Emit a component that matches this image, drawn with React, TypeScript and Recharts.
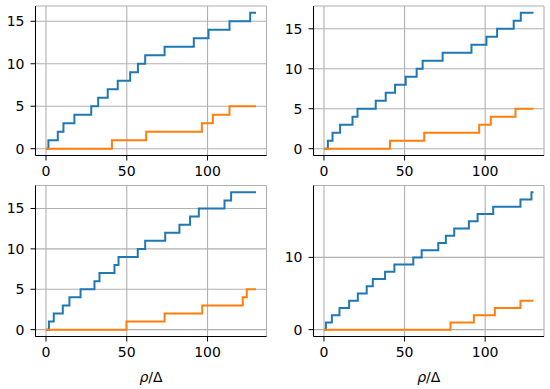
import React from "react";
import { LineChart, Line, XAxis, YAxis, CartesianGrid } from "recharts";

// step positions (rho/Delta) and counts
const p1BlueX = [0, 1.5, 7.3, 10.8, 17.6, 28, 32.3, 38.2, 44.4, 52.1, 56.9, 61.4, 73.4, 91.5, 100.6, 113.6, 126.4, 130];
const p1BlueY = [0, 1, 2, 3, 4, 5, 6, 7, 8, 9, 10, 11, 12, 13, 14, 15, 16, 16];
const p1OrangeX = [0, 40.8, 62, 96.5, 103.3, 113.6, 130];
const p1OrangeY = [0, 1, 2, 3, 4, 5, 5];

const p2BlueX = [0, 2.4, 5.3, 10, 17.7, 20.8, 32.1, 38.3, 44.1, 50.7, 57.5, 61.2, 73.6, 91.5, 100.8, 107.4, 117.7, 122.1, 130];
const p2BlueY = [0, 1, 2, 3, 4, 5, 6, 7, 8, 9, 10, 11, 12, 13, 14, 15, 16, 17, 17];
const p2OrangeX = [0, 41, 62.2, 96.3, 103.5, 118.8, 130];
const p2OrangeY = [0, 1, 2, 3, 4, 5, 5];

const p3BlueX = [0, 1.8, 4.8, 10.4, 14.5, 21.4, 30, 33.1, 42.4, 44.9, 56.8, 61.4, 73.8, 82.6, 89.2, 94.6, 110.5, 114.6, 130];
const p3BlueY = [0, 1, 2, 3, 4, 5, 6, 7, 8, 9, 10, 11, 12, 13, 14, 15, 16, 17, 17];
const p3OrangeX = [0, 49.8, 73.4, 96.7, 121.8, 124.3, 130];
const p3OrangeY = [0, 1, 2, 3, 4, 5, 5];

const p4BlueX = [0, 1.2, 4.9, 9.6, 15.6, 21, 26.5, 30.3, 37.9, 43.7, 55.4, 60.6, 70.9, 75.6, 80.8, 89.9, 95.3, 105, 121.9, 128.7, 130];
const p4BlueY = [0, 1, 2, 3, 4, 5, 6, 7, 8, 9, 10, 11, 12, 13, 14, 15, 16, 17, 18, 19, 19];
const p4OrangeX = [0, 78.5, 93, 106, 121.9, 130];
const p4OrangeY = [0, 1, 2, 3, 4, 4];

const xTicks = [0, 50, 100];
const yTicksA = [0, 5, 10, 15];
const yTicksB = [0, 10];

const FONT = "DejaVu Sans";
const BLUE = "#1f77b4";
const ORANGE = "#ff7f0e";

const toPoints = (xs: number[], ys: number[]) => xs.map((x, i) => ({ x, y: ys[i] }));

const XLabel = (props: any) => {
  const vb = props.viewBox || {};
  const cx = (vb.x ?? 35.5) + (vb.width ?? 231) / 2;
  const y = (vb.y ?? 156.5) + 45;
  return (
    <text x={cx} y={y} textAnchor="middle" fontFamily={FONT} fontSize={14} fill="#000">
      <tspan fontStyle="italic">ρ</tspan>
      <tspan>/Δ</tspan>
    </text>
  );
};

interface PanelProps {
  blue: { x: number; y: number }[];
  orange: { x: number; y: number }[];
  yDomain: [number, number];
  yTicks: number[];
  left: number;
  top: number;
  height: number;
  yWidth: number;
  right: number;
  xHeight: number;
  withLabel?: boolean;
}

function Panel({ blue, orange, yDomain, yTicks, left, top, height, yWidth, right, xHeight, withLabel }: PanelProps) {
  const tickStyle = { fill: "#000", fontSize: 14, fontFamily: FONT };
  return (
    <div style={{ position: "absolute", left, top }}>
      <LineChart width={275} height={height} margin={{ top: top === 0 ? 6 : 5.5, right, left: 0, bottom: 0 }}>
        <CartesianGrid stroke="#b0b0b0" strokeWidth={1.1} />
        <XAxis
          dataKey="x"
          type="number"
          domain={[-6.5, 136.5]}
          allowDataOverflow
          ticks={xTicks}
          height={xHeight}
          stroke="#000"
          tickSize={5}
          tickMargin={6}
          tick={tickStyle}
          label={withLabel ? <XLabel /> : undefined}
        />
        <XAxis xAxisId="top" orientation="top" type="number" domain={[-6.5, 136.5]} height={0} tick={false} tickLine={false} stroke="#000" />
        <YAxis
          type="number"
          domain={yDomain}
          allowDataOverflow
          ticks={yTicks}
          width={yWidth}
          stroke="#000"
          tickSize={5}
          tickMargin={6}
          tick={tickStyle}
        />
        <YAxis yAxisId="right" orientation="right" type="number" domain={yDomain} width={0} tick={false} tickLine={false} stroke="#000" />
        <Line data={blue} dataKey="y" type="stepAfter" stroke={BLUE} strokeWidth={2} dot={false} isAnimationActive={false} />
        <Line data={orange} dataKey="y" type="stepAfter" stroke={ORANGE} strokeWidth={2} dot={false} isAnimationActive={false} />
      </LineChart>
    </div>
  );
}

export default function App() {
  return (
    <div style={{ position: "absolute", left: 0, top: 0, width: 550, height: 389, background: "#fff" }}>
      <Panel
        blue={toPoints(p1BlueX, p1BlueY)}
        orange={toPoints(p1OrangeX, p1OrangeY)}
        yDomain={[-0.8, 16.8]}
        yTicks={yTicksA}
        left={0}
        top={0}
        height={180}
        yWidth={35.5}
        right={8.5}
        xHeight={24.5}
      />
      <Panel
        blue={toPoints(p2BlueX, p2BlueY)}
        orange={toPoints(p2OrangeX, p2OrangeY)}
        yDomain={[-0.85, 17.85]}
        yTicks={yTicksA}
        left={275}
        top={0}
        height={180}
        yWidth={38.5}
        right={6}
        xHeight={24.5}
      />
      <Panel
        blue={toPoints(p3BlueX, p3BlueY)}
        orange={toPoints(p3OrangeX, p3OrangeY)}
        yDomain={[-0.85, 17.85]}
        yTicks={yTicksA}
        left={0}
        top={180}
        height={209}
        yWidth={35.5}
        right={8.5}
        xHeight={52.5}
        withLabel
      />
      <Panel
        blue={toPoints(p4BlueX, p4BlueY)}
        orange={toPoints(p4OrangeX, p4OrangeY)}
        yDomain={[-0.95, 19.95]}
        yTicks={yTicksB}
        left={275}
        top={180}
        height={209}
        yWidth={38.5}
        right={6}
        xHeight={52.5}
        withLabel
      />
    </div>
  );
}
